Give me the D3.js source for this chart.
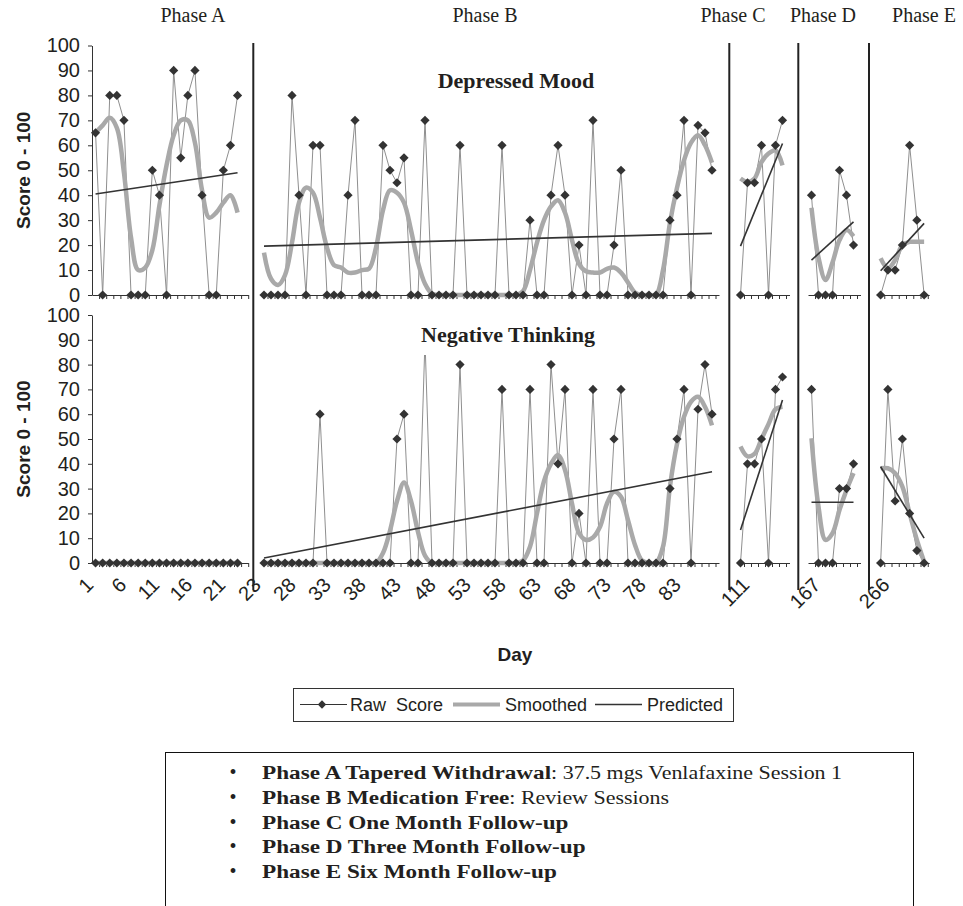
<!DOCTYPE html>
<html><head><meta charset="utf-8">
<script src="https://cdn.jsdelivr.net/npm/d3@7"></script>
<style>body{margin:0;background:#fff}svg{display:block}</style>
</head><body>
<svg id="chart" width="963" height="906"></svg>
<script>
// ---------------- data ----------------
const phaseLabels = ["Phase A", "Phase B", "Phase C", "Phase D", "Phase E"];
const panelTitles = ["Depressed Mood", "Negative Thinking"];
const firstDay = [1, 23, 111, 167, 266];
const dayLabelsA = [1, 6, 11, 16, 21];
const dayLabelsB = [23, 28, 33, 38, 43, 48, 53, 58, 63, 68, 73, 78, 83];
const dayLabelsC = [111];
const dayLabelsD = [167];
const dayLabelsE = [266];
const yTicks = [0, 10, 20, 30, 40, 50, 60, 70, 80, 90, 100];
const legendLabels = ["Raw  Score", "Smoothed", "Predicted"];
const notesBold = ["Phase A Tapered Withdrawal", "Phase B Medication Free", "Phase C One Month Follow-up", "Phase D Three Month Follow-up", "Phase E Six Month Follow-up"];
const notesRest = [": 37.5 mgs Venlafaxine Session 1", ": Review Sessions", "", "", ""];

// Depressed Mood
const moodRawA = [65,0,80,80,70,0,0,0,50,40,0,90,55,80,90,40,0,0,50,60,80];
const moodSmoothA = [65,68,71,67,49,23,10,11,18,36,52,64,70,70,61,42,31,33,37,40,33];
const moodPredA = [40.5, 49];
const moodRawB = [0,0,0,0,80,40,0,60,60,0, 0,0,40,70,0,0,0,60,50,45, 55,0,0,70,0,0,0,0,60,0, 0,0,0,0,60,0,0,0,30,0, 0,40,60,40,0,20,0,70,0,0, 20,50,0,0,0,0,0,0,30,40, 70,0,68,65,50];
const moodSmoothB = [17,6.5,4,8,21,37,43,41,31,19, 12,11,9,9,10,10.5,19,34,42,41, 37,26,13,4.5,0.5,0,0,0,0,0, 0,0,0,0,0,0,0,1.5,10,21, 30,35.5,38,33,22,12.5,9.5,9,9,10.5, 11,9,5,1,0,0,0,10,29,43, 54,61,64,60,53];
const moodPredB = [19.6, 24.7];
const moodRawC = [0,45,45,60,0,60,70];
const moodSmoothC = [46.7,45.3,46.7,53.3,56.7,58,52];
const moodPredC = [19.6, 60.7];
const moodRawD = [40,0,0,0,50,40,20];
const moodSmoothD = [35,15,6,13,22,26,23.5];
const moodPredD = [14, 29.3];
const moodRawE = [0,10,10,20,60,30,0];
const moodSmoothE = [14.7,10.7,14,20,21.3,21.3,21.3];
const moodPredE = [9.7, 28.7];

// Negative Thinking
const negRawA = [0,0,0,0,0,0,0,0,0,0,0,0,0,0,0,0,0,0,0,0,0];
const negSmoothA = [0,0,0,0,0,0,0,0,0,0,0,0,0,0,0,0,0,0,0,0,0];
const negPredA = [0, 0];
const negRawB = [0,0,0,0,0,0,0,0,60,0, 0,0,0,0,0,0,0,0,0,50, 60,0,0,90,0,0,0,0,80,0, 0,0,0,0,70,0,0,0,70,0, 0,80,40,70,0,20,0,70,0,0, 50,70,0,0,0,0,0,0,30,50, 70,0,62,80,60];
const negSmoothB = [0,0,0,0,0,0,0,0,0,0, 0,0,0,0,0,0,0,4,13,25, 32.5,25,12.5,3,0,0,0,0,0,0, 0,0,0,0,0,0,0,1,6.6,20, 33,40,43.5,37.5,24,12,9.3,10.3,14.6,24, 28.7,26.7,17.3,7.3,1,0,0,6.6,31,48, 59,65,67,63,55.5];
const negPredB = [2, 36.8];
const negRawC = [0,40,40,50,0,70,75];
const negSmoothC = [47,43,44,50,56,62,63];
const negPredC = [13.3, 65.7];
const negRawD = [70,0,0,0,30,30,40];
const negSmoothD = [50.3,22.7,9.3,12,21.4,29.4,36.2];
const negPredD = [24.5, 24.5];
const negRawE = [0,70,25,50,20,5,0];
const negSmoothE = [38.2,38.2,36.2,30.8,20,9.3,0.5];
const negPredE = [38.8, 10];

// ---------------- layout ----------------
const svg = d3.select("#chart");
const sans = "'Liberation Sans', Arial, sans-serif";
const serif = "'Liberation Serif', 'Times New Roman', serif";
const ink = "#231f20";
const rawCol = "#8f8f8f", markCol = "#333", smoothCol = "#a9a9a9", predCol = "#333";

const layout = [
  {x0: 92, step: 7.1, n: 22},
  {x0: 260.5, step: 7.0, n: 65.5},
  {x0: 737, step: 7.0, n: 7.5},
  {x0: 808, step: 7.0, n: 7.5},
  {x0: 877, step: 7.25, n: 7.2}
];
const xs = layout.map(l => d3.scaleLinear().domain([0, l.n]).range([l.x0, l.x0 + l.n * l.step]));
const dayLabels = [dayLabelsA, dayLabelsB, dayLabelsC, dayLabelsD, dayLabelsE];
const labelShift = [d => -11 - 0.5 * (d - 1), d => -12, d => 0, d => 0, d => 0];

const panels = [
  {y: d3.scaleLinear().domain([0, 100]).range([295, 45.5]),
   raw: [moodRawA, moodRawB, moodRawC, moodRawD, moodRawE],
   smooth: [moodSmoothA, moodSmoothB, moodSmoothC, moodSmoothD, moodSmoothE],
   pred: [moodPredA, moodPredB, moodPredC, moodPredD, moodPredE],
   title: panelTitles[0], titleX: 516, titleY: 88, labels: false},
  {y: d3.scaleLinear().domain([0, 100]).range([563, 315]),
   raw: [negRawA, negRawB, negRawC, negRawD, negRawE],
   smooth: [negSmoothA, negSmoothB, negSmoothC, negSmoothD, negSmoothE],
   pred: [negPredA, negPredB, negPredC, negPredD, negPredE],
   title: panelTitles[1], titleX: 508, titleY: 342, labels: true}
];

const diamond = r => `M0,${-r}L${r},0L0,${r}L${-r},0Z`;

// phase labels
const phaseCx = [193, 485, 733, 823, 924];
svg.selectAll("text.phase").data(phaseLabels).enter().append("text")
  .attr("x", (d, i) => phaseCx[i]).attr("y", 22).attr("text-anchor", "middle")
  .attr("font-family", serif).attr("font-size", 20).attr("fill", ink).text(d => d);

panels.forEach(p => {
  const g = svg.append("g");
  const y = p.y;
  layout.forEach((l, i) => {
    const ticks = d3.range(1, Math.floor(l.n) + 1);
    const ax = g.append("g").attr("transform", `translate(0,${y(0)})`)
      .call(d3.axisBottom(xs[i]).tickValues(ticks).tickFormat("").tickSize(4).tickSizeOuter(0));
    ax.selectAll("path,line").attr("stroke", "#333").attr("stroke-width", 1);
  });
  const ya = g.append("g").attr("transform", `translate(${layout[0].x0},0)`)
    .call(d3.axisLeft(y).tickValues(yTicks).tickSize(4).tickSizeOuter(0).tickPadding(8));
  ya.selectAll("path,line").attr("stroke", "#333");
  ya.selectAll("text").attr("font-family", sans).attr("font-size", 20).attr("fill", ink);

  layout.forEach((l, i) => {
    const x = xs[i];
    const raw = p.raw[i], sm = p.smooth[i], pr = p.pred[i];
    const rawLine = d3.line().x((d, j) => x(j + 0.5)).y(d => y(d));
    g.append("path").datum(raw).attr("d", rawLine)
      .attr("fill", "none").attr("stroke", rawCol).attr("stroke-width", 1);
    const smLine = d3.line().x((d, j) => x(j + 0.5)).y(d => y(d)).curve(d3.curveCatmullRom.alpha(0.5));
    g.append("path").datum(sm).attr("d", smLine)
      .attr("fill", "none").attr("stroke", smoothCol).attr("stroke-width", 4.5)
      .attr("stroke-linejoin", "round");
    const predPts = [[0.5, pr[0]], [raw.length - 0.5, pr[1]]];
    g.append("path").datum(predPts)
      .attr("d", d3.line().x(d => x(d[0])).y(d => y(d[1])))
      .attr("fill", "none").attr("stroke", predCol).attr("stroke-width", 1.6);
    g.selectAll(null).data(raw).enter().append("path")
      .attr("d", diamond(4.6))
      .attr("transform", (d, j) => `translate(${x(j + 0.5)},${y(d)})`)
      .attr("fill", markCol);
    if (p.labels) {
      g.selectAll(null).data(dayLabels[i]).enter().append("text")
        .attr("transform", d => `translate(${x(d - firstDay[i] + 0.5) + labelShift[i](d)},${y(0) + 13}) rotate(-45)`)
        .attr("text-anchor", "end").attr("dy", "0.72em")
        .attr("font-family", sans).attr("font-size", 20).attr("fill", ink)
        .text(d => d);
    }
  });
  const t = g.append("text").attr("x", p.titleX).attr("y", p.titleY).attr("text-anchor", "middle")
    .attr("font-family", serif).attr("font-weight", "bold").attr("font-size", 22).attr("fill", ink)
    .text(p.title);
  const bb = t.node().getBBox();
  g.insert("rect", () => t.node()).attr("x", bb.x - 4).attr("y", bb.y - 2)
    .attr("width", bb.width + 8).attr("height", bb.height + 10).attr("fill", "#fff");
  g.append("text").attr("transform", `translate(30,${(y(0) + y(100)) / 2}) rotate(-90)`)
    .attr("text-anchor", "middle").attr("font-family", sans).attr("font-weight", "bold")
    .attr("font-size", 19).attr("fill", ink).text("Score 0 - 100");
});

// phase separators
const sepX = [253.3, 729.3, 798.3, 869];
svg.selectAll("line.sep").data(sepX).enter().append("line")
  .attr("x1", d => d).attr("x2", d => d).attr("y1", 43).attr("y2", 590)
  .attr("stroke", "#222").attr("stroke-width", 2);

// x title
svg.append("text").attr("x", 515).attr("y", 661).attr("text-anchor", "middle")
  .attr("font-family", sans).attr("font-weight", "bold").attr("font-size", 19).attr("fill", ink).text("Day");

// legend
const lg = svg.append("g");
lg.append("rect").attr("x", 293.5).attr("y", 688.5).attr("width", 440).attr("height", 33)
  .attr("fill", "#fff").attr("stroke", "#333").attr("stroke-width", 1);
const ly = 704.5;
lg.append("line").attr("x1", 300).attr("x2", 347).attr("y1", ly).attr("y2", ly).attr("stroke", "#333").attr("stroke-width", 1.2);
lg.append("path").attr("d", diamond(4.2)).attr("transform", `translate(322,${ly})`).attr("fill", markCol);
lg.append("line").attr("x1", 453).attr("x2", 500).attr("y1", ly).attr("y2", ly).attr("stroke", smoothCol).attr("stroke-width", 4);
lg.append("line").attr("x1", 595).attr("x2", 642).attr("y1", ly).attr("y2", ly).attr("stroke", predCol).attr("stroke-width", 1.5);
const lx = [350, 505, 647];
lg.selectAll("text").data(legendLabels).enter().append("text")
  .attr("x", (d, i) => lx[i]).attr("y", ly + 6).attr("font-family", sans).attr("font-size", 18)
  .attr("fill", ink).style("white-space", "pre").text(d => d);

// notes box
const nb = svg.append("g");
nb.append("rect").attr("x", 165.5).attr("y", 752.5).attr("width", 748).attr("height", 200)
  .attr("fill", "none").attr("stroke", "#111").attr("stroke-width", 1);
notesBold.forEach((b, i) => {
  const yy = 779 + i * 24.8;
  nb.append("text").attr("x", 233).attr("y", yy).attr("text-anchor", "middle")
    .attr("font-family", serif).attr("font-size", 20).attr("fill", ink).text("\u2022");
  const t = nb.append("text").attr("transform", `translate(262,${yy}) scale(1.22,1)`)
    .attr("font-family", serif).attr("font-size", 19).attr("fill", ink);
  t.append("tspan").attr("font-weight", "bold").text(b);
  if (notesRest[i]) t.append("tspan").attr("font-size", 18).text(notesRest[i]);
});
</script>
</body></html>
